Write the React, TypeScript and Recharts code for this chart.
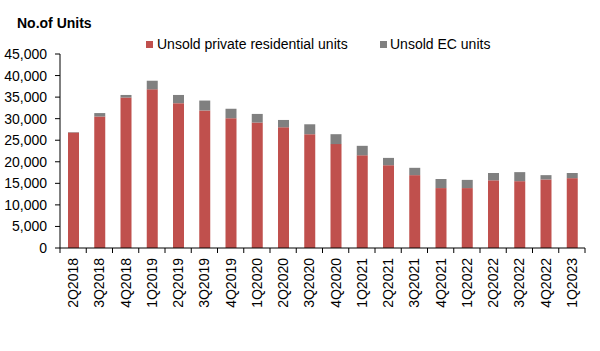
import React from 'react';
import { BarChart, Bar, XAxis, YAxis, Legend } from 'recharts';

const quarters = [
  '2Q2018', '3Q2018', '4Q2018', '1Q2019', '2Q2019', '3Q2019', '4Q2019',
  '1Q2020', '2Q2020', '3Q2020', '4Q2020', '1Q2021', '2Q2021', '3Q2021',
  '4Q2021', '1Q2022', '2Q2022', '3Q2022', '4Q2022', '1Q2023',
];
const privateUnits = [
  26800, 30500, 34900, 36800, 33600, 31900, 30100, 29100, 28000, 26400,
  24100, 21500, 19200, 16900, 13900, 13900, 15700, 15500, 15900, 16200,
];
const ecUnits = [
  100, 800, 600, 2000, 1900, 2300, 2200, 2000, 1700, 2300,
  2300, 2200, 1700, 1700, 2100, 1900, 1700, 2100, 1000, 1200,
];
const yTicks = [0, 5000, 10000, 15000, 20000, 25000, 30000, 35000, 40000, 45000];

const RED = '#C0504D';
const GREY = '#808080';
const FONT = '"Liberation Sans", Arial, sans-serif';

const data = quarters.map((q, i) => ({ q, priv: privateUnits[i], ec: ecUnits[i] }));

const WIDTH = 600;
const HEIGHT = 351;
const LEGEND_H = 20;
// the legend box height gets added to the top margin by recharts
const MARGIN = { top: 54 - LEGEND_H, right: 15, bottom: 0, left: 0 };
const Y_AXIS_W = 60;
const STEP = (WIDTH - MARGIN.left - MARGIN.right - Y_AXIS_W) / quarters.length;

// rotated quarter label plus a tick mark on the boundary between categories
const QuarterTick = (props: any) => {
  const { x, y, payload, index } = props;
  const axisY = y - 10;
  return (
    <g>
      <line x1={x - STEP / 2} x2={x - STEP / 2} y1={axisY} y2={axisY + 5} stroke="#000" />
      {index === quarters.length - 1 && (
        <line x1={x + STEP / 2} x2={x + STEP / 2} y1={axisY} y2={axisY + 5} stroke="#000" />
      )}
      <text
        x={x}
        y={y}
        dy="0.35em"
        textAnchor="end"
        transform={`rotate(-90, ${x}, ${y})`}
        fontSize={14}
        fontFamily={FONT}
        fill="#000"
      >
        {payload.value}
      </text>
    </g>
  );
};

const LegendContent = () => (
  <div style={{ position: 'relative', height: LEGEND_H, fontFamily: FONT, fontSize: 14, color: '#000' }}>
    <span style={{ position: 'absolute', left: 0, top: 5, width: 7, height: 7, background: RED }} />
    <span style={{ position: 'absolute', left: 11, top: 0, whiteSpace: 'nowrap' }}>Unsold private residential units</span>
    <span style={{ position: 'absolute', left: 234, top: 5, width: 7, height: 7, background: GREY }} />
    <span style={{ position: 'absolute', left: 244, top: 0, whiteSpace: 'nowrap' }}>Unsold EC units</span>
  </div>
);

export default function App() {
  return (
    <div style={{ position: 'absolute', left: 0, top: 0, width: WIDTH, height: HEIGHT, background: '#fff' }}>
      <div
        style={{
          position: 'absolute',
          left: 17,
          top: 15,
          fontFamily: FONT,
          fontSize: 14,
          fontWeight: 'bold',
          color: '#000',
        }}
      >
        No.of Units
      </div>
      <BarChart width={WIDTH} height={HEIGHT} data={data} margin={MARGIN} barSize={11}>
        <XAxis
          dataKey="q"
          interval={0}
          height={103}
          tickSize={5}
          tickMargin={5}
          tickLine={false}
          axisLine={{ stroke: '#000' }}
          tick={<QuarterTick />}
        />
        <YAxis
          width={Y_AXIS_W}
          domain={[0, 45000]}
          ticks={yTicks}
          tickSize={5}
          tickMargin={8}
          tickLine={{ stroke: '#000' }}
          axisLine={{ stroke: '#000' }}
          tick={{ fill: '#000', fontSize: 14, fontFamily: FONT }}
          tickFormatter={(v: number) => v.toLocaleString('en-US')}
          interval={0}
        />
        <Legend
          verticalAlign="top"
          align="left"
          content={<LegendContent />}
          wrapperStyle={{ position: 'absolute', top: 36, left: 146, width: 360, height: LEGEND_H }}
        />
        <Bar dataKey="priv" stackId="u" fill={RED} isAnimationActive={false} />
        <Bar dataKey="ec" stackId="u" fill={GREY} isAnimationActive={false} />
      </BarChart>
    </div>
  );
}
